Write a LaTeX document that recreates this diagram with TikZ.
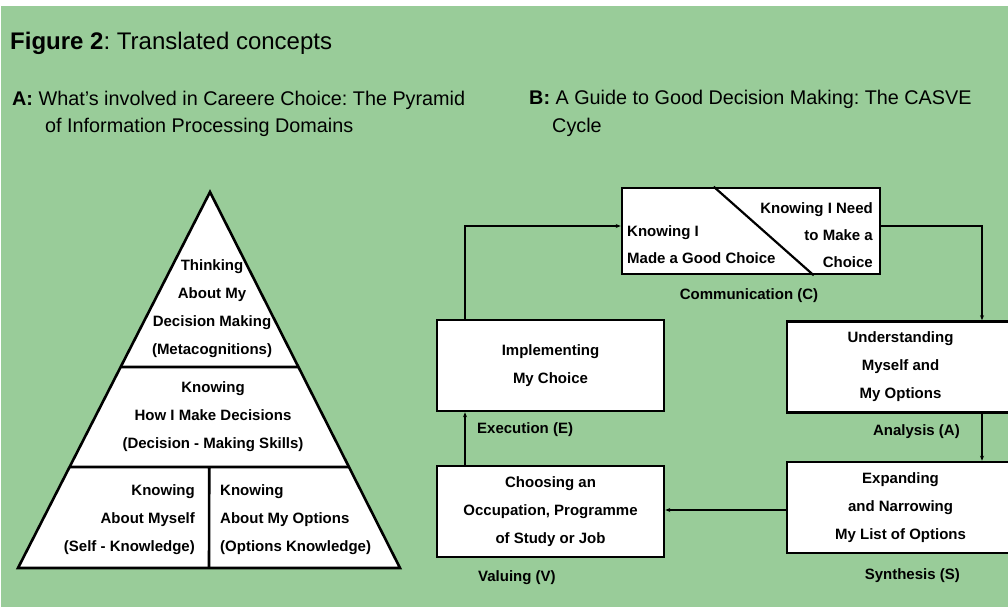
\documentclass[tikz,border=0pt]{standalone}
\usepackage{fontspec}
\setmainfont{Liberation Sans}
\usetikzlibrary{calc,arrows.meta}
\definecolor{bggreen}{RGB}{153,204,153}
\newcommand{\dfont}{\fontsize{15}{28}\selectfont\bfseries}
\frenchspacing

\begin{document}
\begin{tikzpicture}[x=1pt,y=-1pt,
    box/.style={draw, line width=2.6pt, fill=white, inner sep=0pt,
      minimum width=227pt, minimum height=91pt, align=center, font=\dfont},
    lbl/.style={font=\dfont, inner sep=0pt},
    head/.style={anchor=base west, inner sep=0pt, font=\fontsize{19.8}{25}\selectfont},
    conn/.style={line width=1.6pt, -{Stealth[length=5pt,width=4pt]}}]
      \useasboundingbox (0,0) rectangle (1008,607);
      \clip (0,0) rectangle (1008,607);
      \fill[white] (0,0) rectangle (1008,607);
      \fill[bggreen] (1,6) rectangle (1008,607);
      % headings
      \node (title) at (10,50) [anchor=base west, inner sep=0pt, font=\fontsize{24}{28}\selectfont]
        {\textbf{Figure 2}: Translated concepts};
      \node (headA) at (12,106) [head] {\textbf{A:} What's involved in Careere Choice: The Pyramid};
      \node (headAb) at (45,132) [head] {of Information Processing Domains};
      \node (headB) at (529,105) [head] {\textbf{B:} A Guide to Good Decision Making: The CASVE};
      \node (headBb) at (552,132) [head] {Cycle};
      % pyramid
      \coordinate (apex) at (210,192);
      \coordinate (bl) at (18,568);
      \coordinate (br) at (400,568);
      \coordinate (t1l) at ($(apex)!0.4654!(bl)$);
      \coordinate (t1r) at ($(apex)!0.4654!(br)$);
      \coordinate (t2l) at ($(apex)!0.7314!(bl)$);
      \coordinate (t2r) at ($(apex)!0.7314!(br)$);
      \draw[line width=2.6pt, fill=white, line join=miter] (apex) -- (bl) -- (br) -- cycle;
      \draw[line width=2.6pt]
      (t1l) -- (t1r)
      (t2l) -- (t2r)
      ($(t2l)!0.5!(t2r)$) -- ($(bl)!0.5!(br)$);
      \node (meta) at (212,309) [lbl, align=center]
        {Thinking\\About My\\Decision Making\\(Metacognitions)};
      \node (dms) at (213,417) [lbl, align=center]
        {Knowing\\How I Make Decisions\\(Decision - Making Skills)};
      \node (self) at (195,520) [lbl, anchor=east, align=right]
        {Knowing\\About Myself\\(Self - Knowledge)};
      \node (opts) at (220,520) [lbl, anchor=west, align=left]
        {Knowing\\About My Options\\(Options Knowledge)};
      % CASVE cycle
      \node (comm) at (751,231) [draw, line width=2.6pt, fill=white, inner sep=0pt,
        minimum width=258pt, minimum height=86pt] {};
      \draw[line width=2.2pt] ($(comm.north west)+(93,0)$) -- ($(comm.south west)+(193,0)$);
      \node (made) at (627,245) [lbl, anchor=west, align=left, font=\fontsize{15}{27}\selectfont\bfseries]
        {Knowing I\\Made a Good Choice};
      \node (need) at (873,235) [lbl, anchor=east, align=right, font=\fontsize{15}{27}\selectfont\bfseries]
        {Knowing I Need\\to Make a\\Choice};
      \node (impl) at (550.5,365.5) [box] {Implementing\\My Choice};
      \node (und) at (900.5,367) [box] {Understanding\\Myself and\\My Options};
      \node (expd) at (900.5,507.5) [box] {Expanding\\and Narrowing\\My List of Options};
      \node (choose) at (550.5,511.5) [box] {Choosing an\\Occupation, Programme\\of Study or Job};
      \node (lc) at (749,296) [lbl] {Communication (C)};
      \node (le) at (477,430) [lbl, anchor=west] {Execution (E)};
      \node (la) at (960,432) [lbl, anchor=east] {Analysis (A)};
      \node (lv) at (478,578) [lbl, anchor=west] {Valuing (V)};
      \node (ls) at (960,576) [lbl, anchor=east] {Synthesis (S)};
      \coordinate (ec) at (465,226);
      \coordinate (ac) at (982,226);
      \draw[conn] (ec |- impl.north) -- (ec) -- (comm.west |- ec);
      \draw[conn] (comm.east |- ac) -- (ac) -- (ac |- und.north);
      \draw[conn] (ac |- und.south) -- (ac |- expd.north);
      \draw[conn] (expd.west |- 0,510) -- (choose.east |- 0,510);
      \draw[conn] (ec |- choose.north) -- (ec |- impl.south);
    \end{tikzpicture}
\end{document}
